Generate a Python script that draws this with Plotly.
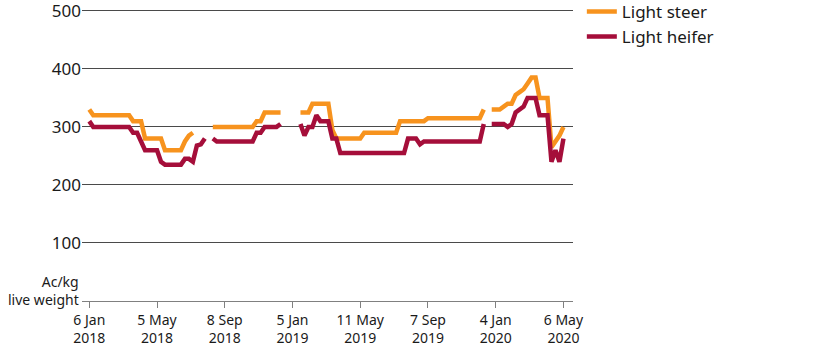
import pandas as pd
import plotly.graph_objects as go

# Weekly observations starting 6 Jan 2018 (120 weeks)
weeks = pd.date_range("2018-01-06", periods=120, freq="7D")

light_steer = [
    330, 320, 320, 320, 320, 320, 320, 320, 320, 320,
    320, 310, 310, 310, 280, 280, 280, 280, 280, 260,
    260, 260, 260, 260, 275, 285, 290, None, None, None,
    None, 300, 300, 300, 300, 300, 300, 300, 300, 300,
    300, 300, 310, 310, 325, 325, 325, 325, 325, None,
    None, None, None, 325, 325, 325, 340, 340, 340, 340,
    340, 295, 280, 280, 280, 280, 280, 280, 280, 290,
    290, 290, 290, 290, 290, 290, 290, 290, 310, 310,
    310, 310, 310, 310, 310, 315, 315, 315, 315, 315,
    315, 315, 315, 315, 315, 315, 315, 315, 315, 330,
    None, 330, 330, 330, 335, 340, 340, 355, 360, 365,
    375, 385, 385, 350, 350, 350, 265, 275, 285, 300,
]

light_heifer = [
    310, 300, 300, 300, 300, 300, 300, 300, 300, 300,
    300, 290, 290, 275, 260, 260, 260, 260, 240, 235,
    235, 235, 235, 235, 245, 245, 240, 268, 270, 280,
    None, 280, 275, 275, 275, 275, 275, 275, 275, 275,
    275, 275, 290, 290, 300, 300, 300, 300, 305, None,
    None, None, None, 305, 285, 300, 300, 320, 310, 310,
    310, 280, 280, 255, 255, 255, 255, 255, 255, 255,
    255, 255, 255, 255, 255, 255, 255, 255, 255, 255,
    280, 280, 280, 270, 275, 275, 275, 275, 275, 275,
    275, 275, 275, 275, 275, 275, 275, 275, 275, 305,
    None, 305, 305, 305, 305, 300, 305, 325, 330, 335,
    350, 350, 350, 320, 320, 320, 240, 260, 240, 280,
]

tick_weeks = [0, 17, 34, 51, 68, 85, 102, 119]
tick_labels = ["6 Jan<br>2018", "5 May<br>2018", "8 Sep<br>2018", "5 Jan<br>2019",
               "11 May<br>2019", "7 Sep<br>2019", "4 Jan<br>2020", "6 May<br>2020"]
y_ticks = [100, 200, 300, 400, 500]

FONT = "Noto Sans"
TXT = "#1a1a1a"

fig = go.Figure()
fig.add_trace(go.Scatter(x=weeks, y=light_steer, mode="lines", name="Light steer",
                         line=dict(color="#F7931E", width=4.5), connectgaps=False))
fig.add_trace(go.Scatter(x=weeks, y=light_heifer, mode="lines", name="Light heifer",
                         line=dict(color="#A50E3A", width=4.5), connectgaps=False))

x0 = weeks[0] - pd.Timedelta(days=1.83 * 7)
x1 = weeks[0] + pd.Timedelta(days=121.4 * 7)

fig.update_layout(
    width=816, height=357,
    margin=dict(l=82, r=243, t=8.1, b=56, autoexpand=False),
    paper_bgcolor="white", plot_bgcolor="white",
    font=dict(family=FONT, color=TXT),
    showlegend=True,
    legend=dict(x=1.018, y=1.048, xanchor="left", yanchor="top",
                font=dict(size=17, family=FONT, color=TXT),
                bgcolor="rgba(0,0,0,0)", borderwidth=0, tracegroupgap=0),
    xaxis=dict(range=[x0, x1], tickmode="array",
               tickvals=[weeks[i] for i in tick_weeks], ticktext=tick_labels,
               showgrid=False, zeroline=False, showline=True,
               linecolor="#808080", linewidth=1, ticks="outside", ticklen=6,
               tickcolor="#808080", tickfont=dict(size=14, family=FONT, color=TXT)),
    yaxis=dict(range=[0, 505], tickmode="array", tickvals=y_ticks,
               showgrid=True, gridcolor="#4a4a4a", gridwidth=1,
               zeroline=False, showline=False, ticks="",
               ticklabeloverflow="allow",
               tickfont=dict(size=17, family=FONT, color=TXT)),
    annotations=[dict(text="Ac/kg<br>live weight", xref="paper", x=0, xanchor="right",
                      xshift=-1, yref="y", y=18, yanchor="middle", align="right",
                      showarrow=False, font=dict(size=14, family=FONT, color=TXT))],
)

fig.write_html("out.html", config={"displayModeBar": False},
               post_script="document.body.style.margin='0';")
